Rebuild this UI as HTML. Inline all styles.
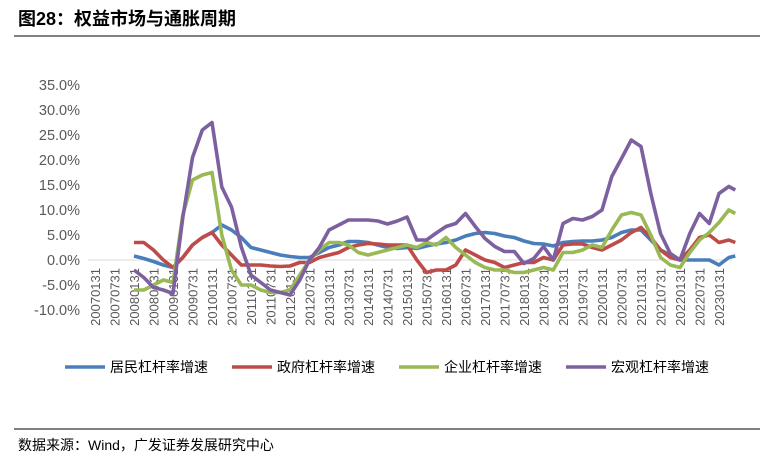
<!DOCTYPE html>
<html><head><meta charset="utf-8"><style>
body{margin:0;background:#fff;width:773px;height:466px;overflow:hidden;font-family:"Liberation Sans","Noto Sans CJK SC",sans-serif}
</style></head><body>
<svg width="773" height="466" xmlns="http://www.w3.org/2000/svg">
<text x="18" y="25" font-size="18" font-weight="bold" fill="#000" font-family="Liberation Sans,Noto Sans CJK SC,sans-serif">图28：权益市场与通胀周期</text>
<line x1="14" y1="36" x2="760" y2="36" stroke="#000" stroke-width="1"/>
<g id="yaxis"></g>
<g id="xaxis"></g>
<g id="series"></g>
<g id="legend"></g>
<line x1="14" y1="429" x2="760" y2="429" stroke="#000" stroke-width="1"/>
<text x="18" y="450" font-size="14" fill="#000" font-family="Liberation Sans,Noto Sans CJK SC,sans-serif">数据来源：Wind，广发证券发展研究中心</text>
</svg>
<script>
const yTicks=[35,30,25,20,15,10,5,0,-5,-10];
const xLabels=["20070131","20070731","20080131","20080731","20090131","20090731","20100131","20100731","20110131","20110731","20120131","20120731","20130131","20130731","20140131","20140731","20150131","20150731","20160131","20160731","20170131","20170731","20180131","20180731","20190131","20190731","20200131","20200731","20210131","20210731","20220131","20220731","20230131"];
const seriesNames=["居民杠杆率增速","政府杠杆率增速","企业杠杆率增速","宏观杠杆率增速"];
const household=[0.8,0.3,-0.3,-1,-1.5,0.5,3,4.5,5.5,7,6,4.5,2.5,2,1.5,1,0.7,0.5,0.5,1.5,2.5,3,3.7,3.7,3.5,3,2.5,2.3,2.5,2.3,2.8,3.2,3.5,4,4.8,5.3,5.5,5.3,4.8,4.5,3.8,3.3,3.2,2.8,3.5,3.7,3.8,3.8,4,4.5,5.5,6,6,4,2,1,0,0,0,0,-1,0.5,0.8];
const government=[3.5,3.5,2,0,-1.5,0.5,3,4.5,5.5,3,1,-1,-1,-1,-1.2,-1.3,-1.2,-0.5,-0.5,0.5,1,1.5,2.5,3,3.3,3.2,3,3,3,0,-2.5,-2,-2,-1,2,1,0,-0.5,-1.5,-1,-0.5,-0.5,0.5,0,3,3.2,3.2,2.5,2,3,4,5.5,6.5,4.5,2,0.5,0,2,4.5,5,3.5,4,3.5];
const corporate=[-6,-6,-5,-4,-4.5,9,16,17,17.5,5,-2,-5,-5,-6,-6.5,-6.5,-6,-3,0,2,3.5,3.5,3,1.5,1,1.5,2,2.5,3,2.5,3.5,3,4.5,2.5,1,-0.5,-1.5,-2,-2,-2.5,-2.5,-2,-1.5,-2,1.5,1.5,2,3,2.5,6,9,9.5,9,5,0.5,-1,-1.5,1.5,4,5.5,7.5,10,9.3];
const macro=[-2,-3.5,-5.5,-6,-6.7,8.5,20.5,26,27.5,14.6,10.6,2.6,-3,-4.5,-6,-6.5,-7,-4,0,2.5,6,7,8,8,8,7.8,7.2,7.8,8.6,4,4,5.4,6.7,7.3,9.3,6.7,4.3,2.7,1.7,1.7,-0.7,0.3,2.7,0,7.3,8.3,8,8.7,10,16.7,20.3,24,22.7,13.3,5.3,1.3,0,5.3,9.3,7.3,13.3,14.7,14];
const colors=["#4a7ebb","#be4b48","#98b954","#7d60a0"];
const NS="http://www.w3.org/2000/svg";
function el(t,a,p){const e=document.createElementNS(NS,t);for(const k in a)e.setAttribute(k,a[k]);p.appendChild(e);return e;}
const yS=v=>260-v*5;
const xM=m=>95+m/6*19.5;
const pointMonth=i=>i<62?12+3*i:12+3*61+2;
const ya=document.getElementById('yaxis');
yTicks.forEach(v=>{const t=el('text',{x:80,y:yS(v)+5,'text-anchor':'end','font-size':14.5,fill:'#595959'},ya);


t.textContent=v.toFixed(1)+'%';});
const zl=el('line',{x1:88,y1:yS(0),x2:732,y2:yS(0),stroke:'#d9d9d9','stroke-width':1},ya);


const xa=document.getElementById('xaxis');
xLabels.forEach((l,i)=>{const x=95+i*19.5;const t=el('text',{x:0,y:0,transform:`translate(${x+5},268) rotate(-90)`,'text-anchor':'end','font-size':13,fill:'#595959'},xa);


t.textContent=l;});
const sg=document.getElementById('series');
[household,government,corporate,macro].forEach((arr,s)=>{const d=arr.map((v,i)=>(i?'L':'M')+xM(pointMonth(i)).toFixed(1)+','+yS(v).toFixed(1)).join(' ');
const p=el('path',{d:d,fill:'none',stroke:colors[s],'stroke-width':3.6,'stroke-linejoin':'round'},sg);

});
const lg=document.getElementById('legend');
const lx=[65,232,399,566];
seriesNames.forEach((n,i)=>{const g=el('g',{},lg);


el('line',{x1:lx[i],y1:367,x2:lx[i]+40,y2:367,stroke:colors[i],'stroke-width':3.6},g);
const t=el('text',{x:lx[i]+45,y:372,'font-size':14,fill:'#000'},g);t.textContent=n;});
</script>
</body></html>
